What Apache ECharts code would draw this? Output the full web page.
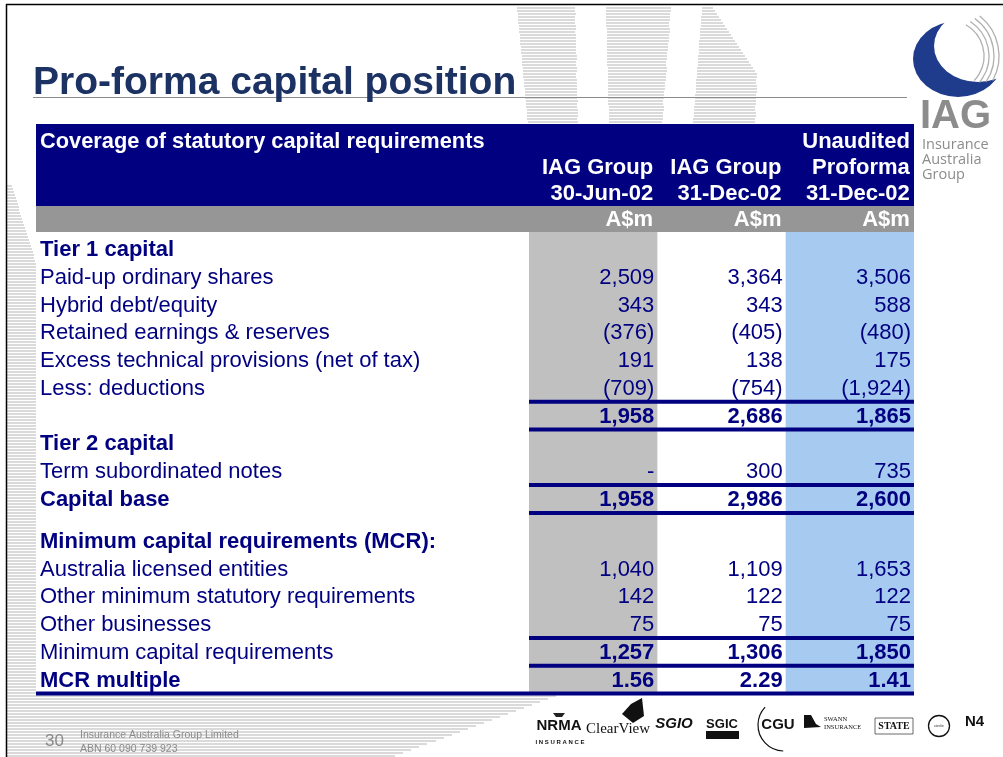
<!DOCTYPE html>
<html>
<head>
<meta charset="utf-8">
<script src="https://cdn.jsdelivr.net/npm/echarts/dist/echarts.min.js"></script>
<style>
  html, body { margin: 0; padding: 0; background: #fff; }
  #main { width: 1003px; height: 757px; }
</style>
</head>
<body>
<div id="main"></div>
<script>
// Row labels of the table ('' = subtotal or spacer row)
const rowLabels = [
  "Tier 1 capital",
  "Paid-up ordinary shares",
  "Hybrid debt/equity",
  "Retained earnings & reserves",
  "Excess technical provisions (net of tax)",
  "Less: deductions",
  "",
  "Tier 2 capital",
  "Term subordinated notes",
  "Capital base",
  "",
  "Minimum capital requirements (MCR):",
  "Australia licensed entities",
  "Other minimum statutory requirements",
  "Other businesses",
  "Minimum capital requirements",
  "MCR multiple",
];

// Column headers
const colHeads = ["IAG Group\n30-Jun-02", "IAG Group\n31-Dec-02", "Unaudited\nProforma\n31-Dec-02"];
const unitLabel = "A$m";

// Values (A$m), null = empty cell, 0 = dash
const jun02 = [null, 2509, 343, -376, 191, -709, 1958, null, 0, 1958, null, null, 1040, 142, 75, 1257, 1.56];
const dec02 = [null, 3364, 343, -405, 138, -754, 2686, null, 300, 2986, null, null, 1109, 122, 75, 1306, 2.29];
const proforma = [null, 3506, 588, -480, 175, -1924, 1865, null, 735, 2600, null, null, 1653, 122, 75, 1850, 1.41];

// styling helpers
const boldLabelRows = [0, 7, 9, 11, 16];
const boldValueRows = [6, 9, 15, 16];
const rulesBelow = [5, 6, 8, 9, 14, 15, 16];
const halfRows = [10]; // spacer rows that are only half a line tall
const colFills = ["#c0c0c0", null, "#a6caf0"];
const navy = "#000080";
const font = "Liberation Sans";

function fmt(v) {
  if (v === null || v === undefined) return "";
  if (v === 0) return "-";
  if (!Number.isInteger(v)) return v.toFixed(2);
  const s = Math.abs(v).toLocaleString("en-US");
  return v < 0 ? "(" + s + ")" : s;
}

// vertical slot of a row on the (hidden) y value axis
function slotOf(r) {
  return r - 0.5 * halfRows.filter((h) => h < r).length;
}

const columns = [jun02, dec02, proforma];
const cells = [];
columns.forEach((col, c) => {
  col.forEach((v, r) => {
    if (v !== null) cells.push([c, r, v]);
  });
});
const labelItems = rowLabels.map((l, r) => [0, r]).filter((d) => rowLabels[d[1]]);

// horizontal striped shapes of the slide template
function stripes(y0, y1, leftX, rightX) {
  const out = [];
  for (let y = y0; y < y1; y += 3) {
    const xl = leftX(y), xr = rightX(y);
    out.push({
      type: "rect", z: -20, silent: true,
      shape: { x: Math.round(xl), y: y, width: Math.round(xr - xl), height: 2 },
      style: { fill: "#dadada" },
    });
  }
  return out;
}
const deco = [].concat(
  stripes(185, 757, () => 7, (y) => (y < 262 ? 12 + (24 * (y - 185)) / 77 : y < 695 ? 36 : 556 - (166 * (y - 695)) / 62)),
  stripes(7, 124, (y) => 517 + (11 * (y - 7)) / 117, (y) => 575 + (3 * (y - 7)) / 117),
  stripes(7, 124, (y) => 606 + (3 * (y - 7)) / 117, (y) => 671 - (9 * (y - 7)) / 117),
  stripes(7, 124, (y) => 702 - (9 * (y - 7)) / 117, (y) => (y < 73 ? 713 + (44 * (y - 7)) / 66 : 757 - (2 * (y - 73)) / 51))
);

var chartDom = document.getElementById("main");
var myChart = echarts.init(chartDom, null, { renderer: "canvas" });

var option = {
  animation: false,
  backgroundColor: "#ffffff",
  title: [
    {
      text: "Pro-forma capital position",
      left: 28,
      top: 59,
      textStyle: { fontFamily: font, fontSize: 39, fontWeight: "bold", color: "#1b3263" },
    },
    {
      text: "Coverage of statutory capital requirements",
      left: 35,
      top: 126,
      textStyle: { fontFamily: font, fontSize: 21.8, fontWeight: "bold", color: "#ffffff" },
    },
  ],
  graphic: deco.concat([
    // slide border
    { type: "line", z: -10, shape: { x1: 6.5, y1: 4, x2: 6.5, y2: 757 }, style: { stroke: "#000", lineWidth: 1.5 } },
    { type: "line", z: -10, shape: { x1: 6, y1: 4.5, x2: 1003, y2: 4.5 }, style: { stroke: "#000", lineWidth: 1.5 } },
    // title underline
    { type: "line", z: -5, shape: { x1: 33, y1: 97.5, x2: 907, y2: 97.5 }, style: { stroke: "#8a8a8a", lineWidth: 1 } },
    // header blocks
    { type: "rect", z: -5, shape: { x: 36, y: 124, width: 878, height: 82 }, style: { fill: navy } },
    { type: "rect", z: -5, shape: { x: 36, y: 206, width: 878, height: 26 }, style: { fill: "#969696" } },
    // IAG logo
    { type: "circle", z: -4, x: 958, y: 59, scaleX: 45 / 38, shape: { cx: 0, cy: 0, r: 38 }, style: { fill: "#1f3c8c" } },
    { type: "circle", z: -4, x: 978, y: 46, scaleX: 44 / 36, shape: { cx: 0, cy: 0, r: 36 }, style: { fill: "#ffffff" } },
    { type: "arc", z: -3, shape: { cx: 948, cy: 56, r: 36, startAngle: -1.05, endAngle: 0.75 }, style: { stroke: "#b0b0b0", lineWidth: 1.3, fill: null } },
    { type: "arc", z: -3, shape: { cx: 948, cy: 56, r: 41, startAngle: -1.0, endAngle: 0.7 }, style: { stroke: "#b0b0b0", lineWidth: 1.3, fill: null } },
    { type: "arc", z: -3, shape: { cx: 948, cy: 56, r: 46, startAngle: -0.95, endAngle: 0.6 }, style: { stroke: "#b0b0b0", lineWidth: 1.3, fill: null } },
    { type: "arc", z: -3, shape: { cx: 948, cy: 56, r: 51, startAngle: -0.9, endAngle: 0.5 }, style: { stroke: "#b0b0b0", lineWidth: 1.3, fill: null } },
    { type: "text", x: 920, y: 117, style: { text: "IAG", fontFamily: font, fontWeight: "bold", fontSize: 40, fill: "#8c8c8c", verticalAlign: "middle" } },
    { type: "text", x: 922, y: 145, style: { text: "Insurance", fontFamily: "Open Sans", fontSize: 14.5, fill: "#8c8c8c", verticalAlign: "middle" } },
    { type: "text", x: 922, y: 160, style: { text: "Australia", fontFamily: "Open Sans", fontSize: 14.5, fill: "#8c8c8c", verticalAlign: "middle" } },
    { type: "text", x: 922, y: 175, style: { text: "Group", fontFamily: "Open Sans", fontSize: 14.5, fill: "#8c8c8c", verticalAlign: "middle" } },
    // footer
    { type: "text", x: 45, y: 741, style: { text: "30", fontFamily: font, fontSize: 17, fill: "#8a8a8a", verticalAlign: "middle" } },
    { type: "text", x: 80, y: 735, style: { text: "Insurance Australia Group Limited", fontFamily: font, fontSize: 10.5, fill: "#8a8a8a", verticalAlign: "middle" } },
    { type: "text", x: 80, y: 749, style: { text: "ABN 60 090 739 923", fontFamily: font, fontSize: 10.5, fill: "#8a8a8a", verticalAlign: "middle" } },
    // brand logos along the bottom
    { type: "text", x: 559, y: 726, style: { text: "NRMA", fontFamily: font, fontWeight: "bold", fontSize: 15, fill: "#111", align: "center", verticalAlign: "middle" } },
    { type: "text", x: 560, y: 742, style: { text: "I N S U R A N C E", fontFamily: font, fontWeight: "bold", fontSize: 6, fill: "#111", align: "center", verticalAlign: "middle" } },
    { type: "polygon", shape: { points: [[553, 713], [565, 713], [562, 717], [556, 717]] }, style: { fill: "#222" } },
    { type: "text", x: 618, y: 729, style: { text: "ClearView", fontFamily: "Liberation Serif", fontSize: 15, fill: "#111", align: "center", verticalAlign: "middle" } },
    { type: "polygon", shape: { points: [[622, 714], [631, 704], [642, 698], [644, 716], [633, 723]] }, style: { fill: "#111" } },
    { type: "text", x: 674, y: 724, style: { text: "SGIO", fontFamily: font, fontStyle: "italic", fontWeight: "bold", fontSize: 15, fill: "#111", align: "center", verticalAlign: "middle" } },
    { type: "text", x: 722, y: 724, style: { text: "SGIC", fontFamily: font, fontWeight: "bold", fontSize: 13, fill: "#111", align: "center", verticalAlign: "middle" } },
    { type: "rect", shape: { x: 706, y: 731, width: 33, height: 8 }, style: { fill: "#111" } },
    { type: "text", x: 778, y: 725, style: { text: "CGU", fontFamily: font, fontWeight: "bold", fontSize: 15, fill: "#111", align: "center", verticalAlign: "middle" } },
    { type: "arc", shape: { cx: 784, cy: 725, r: 26, startAngle: 1.6, endAngle: 3.9 }, style: { stroke: "#111", lineWidth: 1.2, fill: null } },
    { type: "polygon", shape: { points: [[804, 715], [811, 715], [816, 724], [821, 727], [804, 728]] }, style: { fill: "#111" } },
    { type: "text", x: 824, y: 719, style: { text: "SWANN", fontFamily: "Liberation Serif", fontSize: 6.5, fill: "#111", verticalAlign: "middle" } },
    { type: "text", x: 824, y: 727, style: { text: "INSURANCE", fontFamily: "Liberation Serif", fontSize: 6.5, fill: "#111", verticalAlign: "middle" } },
    { type: "rect", shape: { x: 875, y: 718, width: 38, height: 16 }, style: { fill: null, stroke: "#444", lineWidth: 0.8 } },
    { type: "text", x: 894, y: 726, style: { text: "STATE", fontFamily: "Liberation Serif", fontWeight: "bold", fontSize: 10, fill: "#111", align: "center", verticalAlign: "middle" } },
    { type: "circle", shape: { cx: 939, cy: 726, r: 10.5 }, style: { fill: null, stroke: "#111", lineWidth: 1.3 } },
    { type: "text", x: 939, y: 726, style: { text: "circle", fontFamily: font, fontSize: 4, fill: "#111", align: "center", verticalAlign: "middle" } },
    { type: "text", x: 965, y: 722, style: { text: "N4", fontFamily: font, fontWeight: "bold", fontSize: 15, fill: "#111", verticalAlign: "middle" } },
  ]),
  grid: { left: 529, right: 89, top: 235, bottom: 63.5, containLabel: false },
  xAxis: {
    type: "category",
    position: "top",
    data: colHeads,
    axisLine: { show: false },
    axisTick: { show: false },
    splitLine: { show: false },
    axisLabel: {
      interval: 0,
      margin: 2.5,
      formatter: function (value) {
        const lines = value.split("\n");
        while (lines.length < 3) lines.unshift(" ");
        lines.push(unitLabel);
        return lines.map((l) => "{h|" + l + "}").join("\n");
      },
      rich: {
        h: {
          width: 120,
          align: "right",
          color: "#ffffff",
          fontFamily: font,
          fontWeight: "bold",
          fontSize: 22,
          lineHeight: 26,
        },
      },
    },
  },
  yAxis: {
    type: "value",
    inverse: true,
    min: -0.5,
    max: slotOf(rowLabels.length - 1) + 0.5,
    show: false,
  },
  series: [
    {
      // column shading
      type: "custom",
      silent: true,
      z: 1,
      data: colFills.map((f, c) => [c, 0]).filter((d) => colFills[d[0]]),
      renderItem: function (params, api) {
        const c = api.value(0);
        const p = api.coord([c, 0]);
        const s = api.size([1, 1]);
        const cs = params.coordSys;
        return {
          type: "rect",
          shape: { x: p[0] - s[0] / 2, y: cs.y - 3, width: s[0], height: cs.height + 3 },
          style: { fill: colFills[c] },
        };
      },
    },
    {
      // horizontal rules
      type: "custom",
      silent: true,
      z: 2,
      data: rulesBelow.map((r) => [0, r]),
      renderItem: function (params, api) {
        const r = api.value(1);
        const cs = params.coordSys;
        const y = api.coord([0, slotOf(r) + 0.5])[1];
        const x0 = r === rowLabels.length - 1 ? 36 : cs.x;
        return {
          type: "rect",
          shape: { x: x0, y: y - 2, width: cs.x + cs.width - x0, height: 4 },
          style: { fill: navy },
        };
      },
    },
    {
      // row labels
      type: "custom",
      silent: true,
      z: 3,
      data: labelItems,
      renderItem: function (params, api) {
        const r = api.value(1);
        const cs = params.coordSys;
        const y = api.coord([0, slotOf(r)])[1];
        return {
          type: "text",
          x: cs.x - 489,
          y: y + 1,
          style: {
            text: rowLabels[r],
            align: "left",
            verticalAlign: "middle",
            fill: navy,
            fontFamily: font,
            fontSize: 22,
            fontWeight: boldLabelRows.includes(r) ? "bold" : "normal",
          },
        };
      },
    },
    {
      // cell values
      type: "custom",
      silent: true,
      z: 3,
      data: cells,
      renderItem: function (params, api) {
        const c = api.value(0);
        const r = api.value(1);
        const v = cells[params.dataIndex][2];
        const p = api.coord([c, slotOf(r)]);
        const s = api.size([1, 1]);
        return {
          type: "text",
          x: p[0] + s[0] / 2 - 3,
          y: p[1] + 1,
          style: {
            text: fmt(v),
            align: "right",
            verticalAlign: "middle",
            fill: navy,
            fontFamily: font,
            fontSize: 22,
            fontWeight: boldValueRows.includes(r) ? "bold" : "normal",
          },
        };
      },
    },
  ],
};

option && myChart.setOption(option);
</script>
</body>
</html>
